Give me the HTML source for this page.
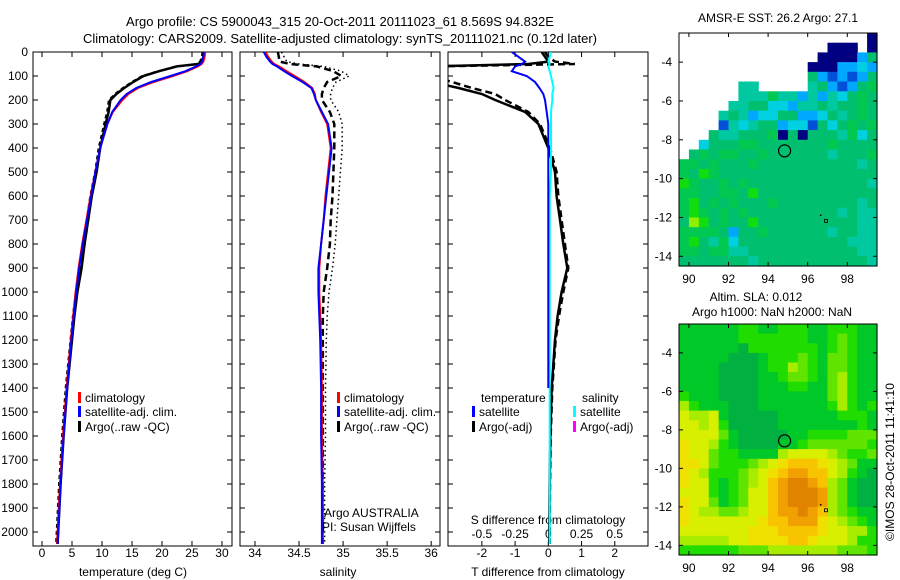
<!DOCTYPE html>
<html><head><meta charset="utf-8"><style>
body{margin:0;background:#fff;}
svg{display:block;font-family:"Liberation Sans",sans-serif;}
text{font-size:12px;fill:#000;}
</style></head><body>
<svg id="chart" width="900" height="580" viewBox="0 0 900 580">
<text x="340" y="26" text-anchor="middle" style="font-size:13px">Argo profile: CS 5900043_315 20-Oct-2011 20111023_61 8.569S 94.832E</text>
<text x="340" y="43" text-anchor="middle" style="font-size:13px">Climatology: CARS2009. Satellite-adjusted climatology: synTS_20111021.nc (0.12d later)</text>
<g id="g"></g>
</svg>
<script>
// ---- profile data ----
const depths = [0,20,40,50,60,80,100,125,150,175,200,250,300,400,500,600,700,800,900,1000,1100,1200,1400,1600,1800,2000,2050];
const tempClim = [27.2,27.1,26.9,26.6,26.0,24.2,21.8,18.6,16.0,14.4,13.4,11.8,10.9,9.7,8.9,8.1,7.4,6.7,6.1,5.6,5.2,4.8,4.1,3.5,3.0,2.6,2.5];
const tempSat  = [27.0,26.9,26.7,26.4,25.7,23.9,21.4,18.2,15.7,14.1,13.1,11.7,10.9,9.7,8.9,8.2,7.5,6.8,6.2,5.7,5.3,4.9,4.2,3.6,3.1,2.7,2.6];
const tempArgo = [27.0,26.9,26.6,26.0,22.5,19.5,16.9,15.2,13.7,12.4,11.4,11.1,10.6,9.7,9.1,8.3,7.7,7.1,6.6,5.9,5.4,5.0,4.2,3.6,3.1,2.7,2.6];
const salClim  = [34.12,34.15,34.19,34.22,34.27,34.36,34.45,34.56,34.65,34.68,34.69,34.75,34.82,34.86,34.83,34.80,34.78,34.75,34.73,34.73,34.74,34.75,34.76,34.76,34.77,34.77,34.77];
const salSat   = [34.10,34.13,34.17,34.20,34.25,34.33,34.42,34.54,34.64,34.67,34.69,34.76,34.83,34.87,34.84,34.81,34.78,34.75,34.72,34.72,34.73,34.74,34.75,34.75,34.76,34.76,34.76];
const salArgo  = [34.26,34.27,34.28,34.40,34.70,34.89,34.98,34.82,34.78,34.76,34.76,34.85,34.90,34.90,34.89,34.88,34.86,34.85,34.82,34.78,34.77,34.77,34.77,34.77,34.77,34.77,34.77];
const salArgoRaw=[34.30,34.33,34.36,34.50,34.78,34.98,35.07,34.92,34.88,34.86,34.86,34.95,34.99,34.99,34.97,34.95,34.93,34.91,34.88,34.84,34.82,34.81,34.80,34.80,34.79,34.79,34.79];
const tDiffArgo = [-0.2,-0.1,0.0,-0.6,-3.5,-3.5,-3.5,-3.5,-2.7,-2.0,-1.6,-0.7,-0.3,0.0,0.2,0.25,0.35,0.45,0.57,0.4,0.28,0.2,0.1,0.06,0.04,0.03,0.03];
const tDiffAdj  = [-0.1,0.0,0.2,0.8,-3.5,-3.5,-3.5,-2.9,-2.3,-1.6,-1.3,-0.6,-0.25,0.05,0.25,0.3,0.4,0.5,0.6,0.45,0.32,0.22,0.12,0.07,0.05,0.04,0.04];
const tDiffSat  = [-1.1,-0.9,-0.7,-0.8,-1.0,-1.1,-0.65,-0.4,-0.27,-0.15,-0.1,-0.05,0.0,0.0,0.0,0.0,0.0,0.0,0.0,0.0,0.0,0.0,0.0,null,null,null,null];
const sDiffSat  = [0.02,0.01,0.0,0.01,0.0,0.01,0.02,0.03,0.04,0.03,0.03,0.02,0.02,0.02,0.02,0.01,0.01,0.01,0.01,0.01,0.01,0.01,0.01,0.01,0.01,0.01,0.01];
const depthTicks = [0,100,200,300,400,500,600,700,800,900,1000,1100,1200,1300,1400,1500,1600,1700,1800,1900,2000];
const tempTicks = [0,5,10,15,20,25,30];
const salTicks = [34,34.5,35,35.5,36];
const tdTicks = [-2,-1,0,1,2];
const sdTicks = [-0.5,-0.25,0,0.25,0.5];
// ---- map data (rows: lat -2.5 downward, 0.5 deg; cols: lon 89.5 eastward) ----
const sstRows = [
"...................0","...............000.0","..............000025",".............0002232",
".............5212125","......44.....4521256","......44464424243565",".....445533244545565",
"....4542335522354565","....1434552331535656","...54455560505554635","..355566555555565555",
".5656655655555545556","66565556555555555545","65765555555555555555","76556565555555555554",
"66556657555555555555","67565655565555555545","67656565555555554544","58756557555555555544",
"66665255655555545544","67546355555555555444","66566445555555555544","55555554555555555554"];
const slaRows = [
"11111122112221122211","11111122222221123211","11111102222222123211","11111000122232133211",
"11110000122432133211","11110000112332134211","11110000111221134211","21110000111111134211",
"42111000111111124212","54451000001111112221","55452000001111111121","55553100000112222333",
"65542100001123333332","65532211114555543223","66532223456777654311","65422234567887754210",
"65521234578998743100","55521235578999843100","65531235578999843100","65443345578898743211",
"65555555677888654321","55555556667777655442","44444556666776555422","22222233344444443332"];
const lonTicks=[90,92,94,96,98];
const latTicks=[-4,-6,-8,-10,-12,-14];
const argoLon=94.832, argoLat=-8.569;

const NS="http://www.w3.org/2000/svg";
const G=document.getElementById('g');
function el(t,a,p){const e=document.createElementNS(NS,t);for(const k in a)e.setAttribute(k,a[k]);(p||G).appendChild(e);return e;}
function txt(x,y,s,anchor,p){const e=el('text',{x:x,y:y,'text-anchor':anchor||'start'},p);e.textContent=s;return e;}
const Y0=52,PY=24/100;
function yD(d){return Y0+d*PY;}
const P1={x0:33,x1:232,v0:-1.5,v1:31.67};
const P2={x0:240,x1:440,v0:33.83,v1:36.1};
const P3={x0:448,x1:648,v0:-3.02,v1:3.0};
const P3s={x0:448,x1:648,v0:-0.755,v1:0.75};
function sx(P,v){return P.x0+(v-P.v0)/(P.v1-P.v0)*(P.x1-P.x0);}
function clipId(P,name){const c=el('clipPath',{id:name});el('rect',{x:P.x0,y:Y0,width:P.x1-P.x0,height:546-Y0},c);return name;}
function line(P,vals,color,w,dash,name,clip){
  let d='',pen=false;
  vals.forEach((v,i)=>{if(v===null){pen=false;return;}d+=(pen?'L':'M')+sx(P,v).toFixed(1)+' '+yD(depths[i]).toFixed(1);pen=true;});
  const e=el('path',{d:d,fill:'none',stroke:color,'stroke-width':w,'clip-path':'url(#'+clip+')'});
  if(dash)e.setAttribute('stroke-dasharray',dash);
  
  
}
function frame(P,name){
  const r=el('rect',{x:P.x0,y:Y0,width:P.x1-P.x0,height:546-Y0,fill:'none',stroke:'#000','stroke-width':1});
  
  
  depthTicks.forEach(d=>{el('line',{x1:P.x0,x2:P.x0+5,y1:yD(d),y2:yD(d),stroke:'#000'});el('line',{x1:P.x1-5,x2:P.x1,y1:yD(d),y2:yD(d),stroke:'#000'});});
}
function xticks(P,ticks,lblY,fmt){
  ticks.forEach(t=>{const x=sx(P,t);el('line',{x1:x,x2:x,y1:Y0,y2:Y0+5,stroke:'#000'});el('line',{x1:x,x2:x,y1:541,y2:546,stroke:'#000'});
    const e=txt(x,lblY,fmt?fmt(t):String(t),'middle');
    
    });
}
// panel 1
const c1=clipId(P1,'c1');frame(P1,'temperature-panel');
depthTicks.forEach(d=>{const e=txt(28,yD(d)+4,String(d),'end');
  
  });
xticks(P1,tempTicks,557);
line(P1,tempArgo,'#000',2.5,null,'temp-argo-line',c1);
line(P1,tempArgo.map(v=>v-0.3),'#000',1.5,'4,3','temp-argo-raw-line',c1);
line(P1,tempClim,'#f00',2,null,'temp-climatology-line',c1);
line(P1,tempSat,'#00f',2,null,'temp-satellite-line',c1);
txt(133,576,'temperature (deg C)','middle');
// panel 2
const c2=clipId(P2,'c2');frame(P2,'salinity-panel');
xticks(P2,salTicks,557);
line(P2,salArgoRaw,'#000',1.5,'1.5,3','sal-argo-raw-line',c2);
line(P2,salArgo,'#000',2.5,'7,4','sal-argo-line',c2);
line(P2,salClim,'#f00',2,null,'sal-climatology-line',c2);
line(P2,salSat,'#00f',2,null,'sal-satellite-line',c2);
txt(338,576,'salinity','middle');
txt(324,517,'Argo AUSTRALIA');
txt(322,531,'PI: Susan Wijffels');
// panel 3
const c3=clipId(P3,'c3');frame(P3,'difference-panel');
xticks(P3,tdTicks,557);
sdTicks.forEach(t=>{const e=txt(sx(P3s,t),538,String(t),'middle');
  
  });
txt(548,524,'S difference from climatology','middle');
txt(548,576,'T difference from climatology','middle');
line(P3,tDiffArgo,'#000',2.5,null,'tdiff-argo-line',c3);
line(P3,tDiffAdj,'#000',2.5,'7,4','tdiff-argo-adj-line',c3);
line(P3s,sDiffSat,'#0ff',2,null,'sdiff-satellite-line',c3);
line(P3,tDiffSat,'#00f',2,null,'tdiff-satellite-line',c3);
// legends
function leg(x,y,color,label,name){const g=el('g',{});
  el('rect',{x:x,y:y-10,width:3,height:11,fill:color},g);txt(x+7,y,label,'start',g);}
leg(78,402,'#f00','climatology','legend-climatology');
leg(78,416,'#00f','satellite-adj. clim.','legend-satellite-adj');
leg(78,431,'#000','Argo(..raw -QC)','legend-argo');
leg(337,402,'#f00','climatology','legend-climatology-2');
leg(337,416,'#00f','satellite-adj. clim.','legend-satellite-adj-2');
leg(337,431,'#000','Argo(..raw -QC)','legend-argo-2');
txt(481,402,'temperature');
txt(582,402,'salinity');
leg(472,416,'#00f','satellite','legend-t-satellite');
leg(472,431,'#000','Argo(-adj)','legend-t-argo');
leg(573,416,'#0ff','satellite','legend-s-satellite');
leg(573,431,'#f0f','Argo(-adj)','legend-s-argo');
// maps
const sstPal={'0':'#000080','1':'#0050d8','2':'#00a8ff','3':'#00d0e0','4':'#00c8a0','5':'#00c070','6':'#00c850','7':'#10dc10','8':'#90ee00','9':'#f0f000'};
const slaPal={'0':'#00b040','1':'#00c828','2':'#20dc00','3':'#60e400','4':'#a8ec00','5':'#d8f000','6':'#f0e000','7':'#f8c400','8':'#f0a000','9':'#e08400'};
function drawMap(M,rows,pal,name){
  const g=el('g',{});
  const lx=v=>M.x0+(v-89.5)/10*(M.x1-M.x0), ly=v=>M.y0+(-2.5-v)/12*(M.y1-M.y0);
  rows.forEach((r,i)=>{for(let j=0;j<20;j++){const ch=(r[j]||'5');if(ch==='.')continue;
    const x=lx(89.5+j*0.5),y=ly(-2.5-i*0.5);
    const c=el('rect',{x:x.toFixed(1),y:y.toFixed(1),width:((M.x1-M.x0)/20+0.6).toFixed(1),height:((M.y1-M.y0)/24+0.6).toFixed(1),fill:pal[ch]},g);
    
    }});
  el('rect',{x:M.x0,y:M.y0,width:M.x1-M.x0,height:M.y1-M.y0,fill:'none',stroke:'#000'},g);
  lonTicks.forEach(t=>{const x=lx(t);el('line',{x1:x,x2:x,y1:M.y0,y2:M.y0+4,stroke:'#000'},g);el('line',{x1:x,x2:x,y1:M.y1-4,y2:M.y1,stroke:'#000'},g);
    const e=txt(x,M.y1+17,String(t),'middle',g);});
  latTicks.forEach(t=>{const y=ly(t);el('line',{x1:M.x0,x2:M.x0+4,y1:y,y2:y,stroke:'#000'},g);el('line',{x1:M.x1-4,x2:M.x1,y1:y,y2:y,stroke:'#000'},g);
    const e=txt(M.x0-7,y+4,String(t),'end',g);});
  const c=el('circle',{cx:lx(argoLon),cy:ly(argoLat),r:6,fill:'none',stroke:'#000','stroke-width':1.2},g);
  
  
  el('rect',{x:lx(96.9)-1,y:ly(-12.15)-1,width:3,height:3,fill:'none',stroke:'#000','stroke-width':0.8},g);
  el('rect',{x:lx(96.62),y:ly(-11.85),width:1.5,height:1.5,fill:'#000'},g);
}
drawMap({x0:679,x1:877,y0:33,y1:266},sstRows,sstPal,'sst-map');
drawMap({x0:679,x1:877,y0:324,y1:555},slaRows,slaPal,'sla-map');
txt(778,22,'AMSR-E SST: 26.2 Argo: 27.1','middle');
txt(756,301,'Altim. SLA: 0.012','middle');
txt(772,316,'Argo h1000: NaN h2000: NaN','middle');
const cr=txt(0,0,'©IMOS 28-Oct-2011 11:41:10','middle');
cr.setAttribute('transform','translate(894,462) rotate(-90)');


</script>
</body></html>
